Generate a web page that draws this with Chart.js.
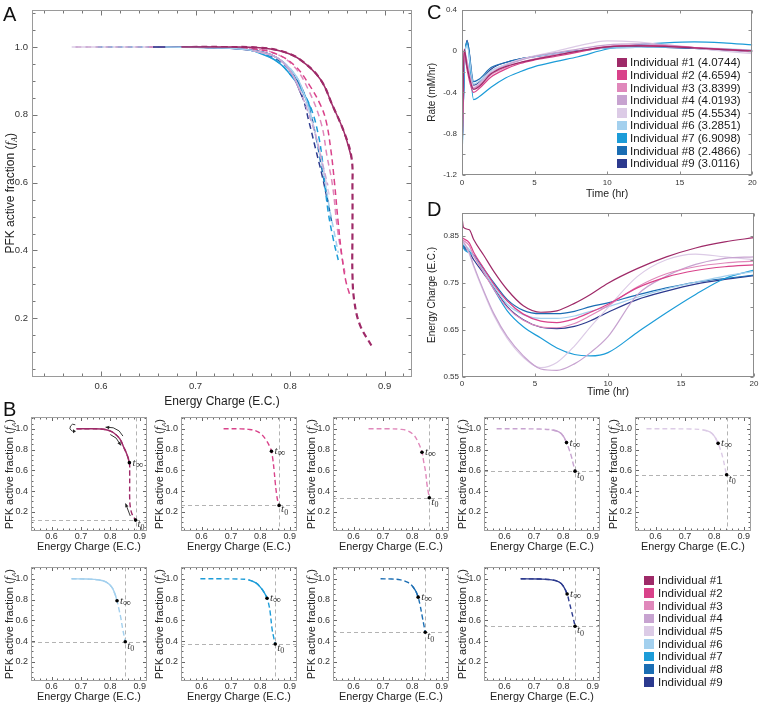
<!DOCTYPE html>
<html><head><meta charset="utf-8">
<script src="https://cdn.jsdelivr.net/npm/chart.js@4.4.1/dist/chart.umd.min.js"></script>
<style>
html,body{margin:0;padding:0;background:#fff;}
#wrap{position:relative;width:760px;height:706px;overflow:hidden;font-family:"Liberation Sans",Arial,sans-serif;}
#wrap canvas{position:absolute;z-index:1;}
.panel{position:absolute;font-size:20px;line-height:20px;color:#111;z-index:2;}
.legend{position:absolute;font-size:11.5px;color:#1a1a1a;z-index:2;}
.legend .row{display:flex;align-items:center;white-space:nowrap;}
.legend .sw{display:inline-block;flex:none;}
</style></head><body><div id="wrap">
<div class="panel" style="left:3px;top:4px">A</div>
<div class="panel" style="left:3px;top:399px">B</div>
<div class="panel" style="left:427px;top:2px">C</div>
<div class="panel" style="left:427px;top:199px">D</div>
<div class="legend" id="legC" style="left:617px;top:56px"></div>
<div class="legend" id="legB" style="left:644px;top:574px"></div>
</div>
<script>
// ---------------- data ----------------
const individuals = ['Individual #1','Individual #2','Individual #3','Individual #4','Individual #5','Individual #6','Individual #7','Individual #8','Individual #9'];
const colors = ['#9e2a68','#d9428a','#e088bb','#c7a3d0','#dccbe6','#a3d0ee','#1c9cd8','#1a6db3','#2c3a8e'];
const rateConstants = ['4.0744','4.6594','3.8399','4.0193','4.5534','3.2851','6.9098','2.4866','3.0116'];

// Panel C: rate vs time
const timeC = [0, 0.15, 0.35, 0.8, 1.2, 2, 3, 4, 5, 6.5, 8, 10, 12, 14, 16, 18, 20];
const rate1 = [-1.05, 0.02, -0.15, -0.37, -0.34, -0.22, -0.15, -0.11, -0.08, -0.04, 0.0, 0.04, 0.05, 0.045, 0.03, 0.015, 0.0];
const rate2 = [-1.07, 0.01, -0.18, -0.40, -0.36, -0.25, -0.175, -0.12, -0.086, -0.05, -0.01, 0.04, 0.055, 0.05, 0.035, 0.02, 0.005];
const rate3 = [-1.04, 0.0, -0.15, -0.36, -0.33, -0.23, -0.16, -0.11, -0.075, -0.035, 0.0, 0.045, 0.055, 0.045, 0.03, 0.015, 0.0];
const rate4 = [-1.0, 0.0, -0.1, -0.36, -0.32, -0.21, -0.14, -0.09, -0.05, -0.015, 0.02, 0.06, 0.07, 0.06, 0.035, 0.015, -0.01];
const rate5 = [-1.0, 0.02, -0.1, -0.35, -0.31, -0.2, -0.13, -0.08, -0.045, 0.0, 0.05, 0.10, 0.09, 0.06, 0.03, 0.0, -0.025];
const rate6 = [-1.02, -0.1, 0.05, -0.32, -0.29, -0.19, -0.13, -0.085, -0.055, -0.025, 0.0, 0.03, 0.035, 0.04, 0.035, 0.025, 0.01];
const rate7 = [-1.1, -0.2, 0.08, -0.47, -0.44, -0.35, -0.26, -0.2, -0.15, -0.1, -0.055, 0.02, 0.06, 0.08, 0.09, 0.08, 0.06];
const rate8 = [-1.05, -0.2, 0.1, -0.295, -0.27, -0.16, -0.11, -0.075, -0.05, -0.02, 0.005, 0.03, 0.035, 0.035, 0.03, 0.015, 0.0];
const rate9 = [-1.0, -0.2, 0.105, -0.33, -0.30, -0.175, -0.11, -0.075, -0.054, -0.025, 0.0, 0.03, 0.04, 0.035, 0.025, 0.01, 0.0];

// Panel D: energy charge vs time
const timeD = [0, 0.1, 0.5, 0.8, 1.5, 2.2, 3.1, 4.2, 5.4, 6.5, 7.7, 8.8, 10, 12, 14, 16, 18, 20];
const ec1 = [0.891,0.869,0.864,0.843,0.809,0.774,0.736,0.702,0.688,0.691,0.707,0.726,0.750,0.781,0.806,0.825,0.838,0.847];
const ec2 = [0.847,0.845,0.836,0.816,0.781,0.747,0.712,0.684,0.669,0.666,0.674,0.688,0.705,0.740,0.763,0.777,0.785,0.789];
const ec3 = [0.843,0.841,0.830,0.809,0.772,0.736,0.698,0.671,0.657,0.655,0.664,0.681,0.702,0.742,0.770,0.785,0.793,0.797];
const ec4 = [0.840,0.838,0.815,0.788,0.733,0.684,0.636,0.595,0.567,0.564,0.578,0.602,0.636,0.725,0.765,0.790,0.803,0.806];
const ec5 = [0.838,0.836,0.812,0.785,0.730,0.680,0.632,0.592,0.570,0.581,0.616,0.657,0.698,0.764,0.800,0.812,0.806,0.800];
const ec6 = [0.835,0.833,0.822,0.808,0.775,0.742,0.705,0.683,0.675,0.675,0.680,0.690,0.700,0.720,0.738,0.752,0.765,0.775];
const ec7 = [0.843,0.825,0.815,0.809,0.774,0.736,0.691,0.657,0.633,0.612,0.598,0.595,0.602,0.645,0.687,0.726,0.760,0.778];
const ec8 = [0.838,0.832,0.818,0.810,0.780,0.750,0.715,0.692,0.685,0.685,0.690,0.700,0.708,0.725,0.740,0.752,0.760,0.767];
const ec9 = [0.835,0.828,0.815,0.800,0.770,0.740,0.700,0.672,0.656,0.653,0.658,0.670,0.688,0.715,0.733,0.748,0.758,0.766];

// Panels A/B: PFK active fraction vs energy charge, [E.C., fA]
const path1 = [[0.685,1.0],[0.73,1.0],[0.768,0.998],[0.793,0.986],[0.811,0.962],[0.832,0.905],[0.845,0.827],[0.857,0.75],[0.865,0.674],[0.866,0.58],[0.866,0.45],[0.866,0.33],[0.868,0.25],[0.874,0.18],[0.886,0.12]];
const path2 = [[0.675,1.0],[0.73,1.0],[0.76,0.995],[0.785,0.98],[0.805,0.945],[0.82,0.89],[0.832,0.83],[0.838,0.783],[0.843,0.70],[0.847,0.60],[0.851,0.48],[0.855,0.38],[0.859,0.31],[0.864,0.262]];
const path3 = [[0.651,1.0],[0.72,1.0],[0.76,0.995],[0.785,0.98],[0.805,0.94],[0.82,0.87],[0.833,0.774],[0.839,0.68],[0.845,0.59],[0.850,0.465],[0.855,0.38],[0.858,0.335]];
const path4 = [[0.573,1.0],[0.65,1.0],[0.72,0.998],[0.76,0.99],[0.785,0.97],[0.80,0.93],[0.811,0.867],[0.82,0.80],[0.828,0.73],[0.834,0.66],[0.840,0.592]];
const path5 = [[0.569,1.0],[0.65,1.0],[0.72,0.998],[0.76,0.99],[0.785,0.97],[0.80,0.93],[0.813,0.86],[0.822,0.79],[0.83,0.71],[0.836,0.63],[0.842,0.557]];
const path6 = [[0.668,1.0],[0.72,0.998],[0.76,0.99],[0.785,0.97],[0.805,0.92],[0.815,0.86],[0.823,0.788],[0.83,0.70],[0.836,0.62],[0.842,0.52],[0.847,0.45],[0.851,0.393]];
const path7 = [[0.596,1.0],[0.66,1.0],[0.72,0.998],[0.76,0.99],[0.785,0.96],[0.80,0.92],[0.813,0.87],[0.823,0.813],[0.83,0.74],[0.834,0.67],[0.840,0.52],[0.846,0.43],[0.851,0.372]];
const path8 = [[0.692,1.0],[0.73,0.998],[0.76,0.99],[0.785,0.965],[0.80,0.93],[0.812,0.88],[0.820,0.823],[0.827,0.74],[0.833,0.65],[0.839,0.56],[0.844,0.485]];
const path9 = [[0.655,1.0],[0.72,0.998],[0.76,0.99],[0.785,0.97],[0.80,0.93],[0.813,0.853],[0.82,0.78],[0.827,0.70],[0.834,0.62],[0.840,0.543]];
const solid1 = [[0.685,1.0],[0.73,1.0],[0.768,0.998],[0.793,0.986],[0.811,0.962],[0.832,0.905],[0.845,0.827],[0.857,0.75],[0.865,0.674]];
const solid2 = [];
const solid3 = [];
const solid4 = [[0.76,0.99],[0.785,0.97],[0.80,0.93],[0.811,0.867]];
const solid5 = [[0.76,0.99],[0.785,0.97],[0.80,0.93],[0.813,0.86]];
const solid6 = [[0.668,1.0],[0.72,0.998],[0.76,0.99],[0.785,0.97],[0.805,0.92],[0.815,0.86],[0.823,0.788]];
const solid7 = [[0.76,0.99],[0.785,0.96],[0.80,0.92],[0.813,0.87],[0.823,0.813]];
const solid8 = [[0.80,0.93],[0.812,0.88],[0.820,0.823]];
const solid9 = [[0.655,1.0],[0.72,0.998],[0.76,0.99],[0.785,0.97],[0.80,0.93],[0.813,0.853]];
const tZero = [[0.886,0.12],[0.864,0.262],[0.858,0.335],[0.840,0.592],[0.842,0.557],[0.851,0.393],[0.851,0.372],[0.844,0.485],[0.840,0.543]];
const tInf  = [[0.865,0.674],[0.838,0.783],[0.833,0.774],[0.811,0.867],[0.813,0.86],[0.823,0.788],[0.823,0.813],[0.820,0.823],[0.813,0.853]];
// direction arrows annotating individual #1 (head at last point)
const b1Arrows = [
  [[0.843,0.93],[0.83,0.98],[0.81,1.01],[0.784,1.016]],
  [[0.80,0.945],[0.82,0.91],[0.836,0.84]],
  [[0.868,0.16],[0.852,0.28]]
];

const rates = [rate1,rate2,rate3,rate4,rate5,rate6,rate7,rate8,rate9];
const ecs = [ec1,ec2,ec3,ec4,ec5,ec6,ec7,ec8,ec9];
const paths = [path1,path2,path3,path4,path5,path6,path7,path8,path9];
const solids = [solid1,solid2,solid3,solid4,solid5,solid6,solid7,solid8,solid9];

// ---------------- helpers ----------------
const FONT = '"Liberation Sans", Arial, sans-serif';
const SERIF = '"Liberation Serif", "DejaVu Serif", serif';
Chart.defaults.font.family = FONT;
Chart.defaults.color = '#333';
Chart.defaults.animation = false;

function makeCanvas(left, top, w, h) {
  const c = document.createElement('canvas');
  c.width = w; c.height = h;
  c.style.left = left + 'px'; c.style.top = top + 'px';
  c.style.width = w + 'px'; c.style.height = h + 'px';
  document.getElementById('wrap').appendChild(c);
  return c;
}
const isMul = (v, s) => Math.abs(v / s - Math.round(v / s)) < 1e-6;
const xy = a => a.map(p => ({x: p[0], y: p[1]}));
const series = (ts, vs) => ts.map((t, k) => ({x: t, y: vs[k]}));

function drawRich(ctx, parts, x, y, rot, align) {
  ctx.save(); ctx.translate(x, y); ctx.rotate(rot || 0);
  ctx.textBaseline = 'alphabetic'; ctx.textAlign = 'left';
  let w = 0;
  parts.forEach(p => { ctx.font = p.font; p.w = ctx.measureText(p.text).width; w += p.w; });
  let cx = align === 'left' ? 0 : -w / 2;
  parts.forEach(p => { ctx.font = p.font; ctx.fillStyle = p.color || '#222'; ctx.fillText(p.text, cx, p.dy || 0); cx += p.w; });
  ctx.restore();
}

function framePlugin(o) {
  return {
    id: 'frame',
    afterDatasetsDraw(chart) {
      const {ctx, chartArea: a} = chart;
      const xs = chart.scales.x, ys = chart.scales.y;
      const L = Math.round(a.left) + 0.5, R = Math.round(a.right) - 0.5, T = Math.round(a.top) + 0.5, B = Math.round(a.bottom) - 0.5;
      ctx.save();
      ctx.lineWidth = 1; ctx.strokeStyle = o.tickColor; ctx.beginPath();
      xs.ticks.forEach(t => {
        const p = Math.round(xs.getPixelForValue(t.value)) + 0.5;
        const len = isMul(t.value - o.xBase, o.xMajor) ? o.major : o.minor;
        ctx.moveTo(p, B); ctx.lineTo(p, B - len);
        ctx.moveTo(p, T); ctx.lineTo(p, T + len);
      });
      ys.ticks.forEach(t => {
        const p = Math.round(ys.getPixelForValue(t.value)) + 0.5;
        const len = isMul(t.value - o.yBase, o.yMajor) ? o.major : o.minor;
        ctx.moveTo(L, p); ctx.lineTo(L + len, p);
        ctx.moveTo(R, p); ctx.lineTo(R - len, p);
      });
      ctx.stroke();
      ctx.strokeStyle = o.frameColor; ctx.lineWidth = 1;
      ctx.strokeRect(L, T, R - L, B - T);
      ctx.restore();
    }
  };
}

// rotated y-axis title with italic f and subscript A; x = baseline position
function yTitlePlugin(x, size) {
  return {
    id: 'ytitle',
    afterDraw(chart) {
      const a = chart.chartArea;
      drawRich(chart.ctx, [
        {text: 'PFK active fraction (', font: size + 'px ' + FONT},
        {text: 'f', font: 'italic ' + (size + 1) + 'px ' + SERIF},
        {text: 'A', font: 'italic ' + Math.round(size * 0.65) + 'px ' + SERIF, dy: 3},
        {text: ')', font: size + 'px ' + FONT}
      ], x, (a.top + a.bottom) / 2, -Math.PI / 2, 'center');
    }
  };
}

function axis(min, max, step, cb, fontSize, pad, fit, title) {
  const o = {
    type: 'linear', min, max,
    grid: {display: false, drawTicks: false},
    border: {display: false},
    ticks: {stepSize: step, includeBounds: false, autoSkip: false, maxRotation: 0, minRotation: 0, maxTicksLimit: 1000,
            callback: cb, font: {size: fontSize}, color: '#333', padding: pad},
    afterFit: fit
  };
  if (title) o.title = title;
  return o;
}
const lab01 = v => isMul(v, 0.1) ? v.toFixed(1) : '';
const lab02 = v => isMul(v, 0.2) ? v.toFixed(1) : '';
const baseOpts = {responsive: false, animation: false, events: [], plugins: {legend: {display: false}, tooltip: {enabled: false}}};

// ---------------- Panel A ----------------
new Chart(makeCanvas(0, 0, 420, 410), {
  type: 'scatter',
  data: {datasets: [
    ...paths.map((p, i) => ({data: xy(p), borderColor: colors[i], borderDash: [6, 4], borderWidth: i === 0 ? 2.2 : 1.5, showLine: true, pointRadius: 0, tension: 0.4, order: 2})),
    ...solids.map((p, i) => ({data: xy(p), borderColor: colors[i], borderWidth: 1.5, showLine: true, pointRadius: 0, tension: 0.4, order: 1}))
  ]},
  options: Object.assign({}, baseOpts, {
    layout: {padding: {top: 2, right: 8, left: 0, bottom: 0}},
    scales: {
      x: axis(0.527, 0.929, 0.02, lab01, 9.5, 3.3, s => { s.height = 33; },
        {display: true, text: 'Energy Charge (E.C.)', font: {size: 12}, color: '#222', padding: {top: 0, bottom: 1}}),
      y: axis(0.027, 1.11, 0.05, lab02, 9.5, 4, s => { s.width = 32; })
    }
  }),
  plugins: [framePlugin({frameColor: '#9a9a9a', tickColor: '#777', xBase: 0, xMajor: 0.1, yBase: 0, yMajor: 0.2, major: 5, minor: 3}), yTitlePlugin(13.5, 12)]
});

// ---------------- Panel B ----------------
const colLefts = [31, 181, 333, 484, 635];
const rowTops = [413, 563];

function bExtra(i) {
  return {
    id: 'bextra',
    beforeDatasetsDraw(chart) {
      const {ctx, chartArea: a} = chart; const xs = chart.scales.x, ys = chart.scales.y;
      const px = Math.round(xs.getPixelForValue(tZero[i][0])) + 0.5, py = Math.round(ys.getPixelForValue(tZero[i][1])) + 0.5;
      ctx.save(); ctx.strokeStyle = '#b3b3b3'; ctx.lineWidth = 1; ctx.setLineDash([4, 3]);
      ctx.beginPath(); ctx.moveTo(px, a.top); ctx.lineTo(px, a.bottom);
      ctx.moveTo(a.left, py); ctx.lineTo(a.right, py); ctx.stroke(); ctx.restore();
    },
    afterDatasetsDraw(chart) {
      const ctx = chart.ctx; const meta = chart.getDatasetMeta(2);
      const p0 = meta.data[0], pI = meta.data[1];
      drawRich(ctx, [{text: 't', font: 'italic 11px ' + SERIF, color: '#333'}, {text: '0', font: '8px ' + SERIF, dy: 2.5, color: '#333'}], p0.x + 2, p0.y + 7, 0, 'left');
      drawRich(ctx, [{text: 't', font: 'italic 11px ' + SERIF, color: '#333'}, {text: '∞', font: '11px ' + SERIF, dy: 2, color: '#333'}], pI.x + 3, pI.y + 3, 0, 'left');
      if (i === 0) {
        const xs = chart.scales.x, ys = chart.scales.y;
        ctx.save(); ctx.strokeStyle = '#222'; ctx.fillStyle = '#222'; ctx.lineWidth = 0.9;
        b1Arrows.forEach(arr => {
          const pts = arr.map(p => [xs.getPixelForValue(p[0]), ys.getPixelForValue(p[1])]);
          ctx.beginPath(); ctx.moveTo(pts[0][0], pts[0][1]);
          for (let k = 1; k < pts.length; k++) ctx.lineTo(pts[k][0], pts[k][1]);
          ctx.stroke();
          const e = pts[pts.length - 1], s = pts[pts.length - 2];
          const ang = Math.atan2(e[1] - s[1], e[0] - s[0]);
          ctx.beginPath(); ctx.moveTo(e[0], e[1]);
          ctx.lineTo(e[0] - 4 * Math.cos(ang - 0.45), e[1] - 4 * Math.sin(ang - 0.45));
          ctx.lineTo(e[0] - 4 * Math.cos(ang + 0.45), e[1] - 4 * Math.sin(ang + 0.45));
          ctx.closePath(); ctx.fill();
        });
        // loop at the turning point
        const cx = xs.getPixelForValue(path1[0][0]) - 3, cy = ys.getPixelForValue(path1[0][1]) - 1;
        ctx.beginPath(); ctx.arc(cx, cy, 3.5, -Math.PI / 3, Math.PI / 2, true); ctx.stroke();
        ctx.beginPath(); ctx.moveTo(cx + 2.5, cy + 3.5); ctx.lineTo(cx - 0.5, cy + 1.5); ctx.lineTo(cx - 0.5, cy + 5.5); ctx.closePath(); ctx.fill();
        ctx.restore();
      }
    }
  };
}

for (let i = 0; i < 9; i++) {
  const col = i % 5, row = Math.floor(i / 5);
  const L = colLefts[col], T = rowTops[row];
  new Chart(makeCanvas(L - 31, T - 4, 151, 147), {
    type: 'scatter',
    data: {datasets: [
      {data: xy(paths[i]), borderColor: colors[i], borderDash: [5, 3], borderWidth: 1.4, showLine: true, pointRadius: 0, tension: 0.4, order: 2},
      {data: xy(solids[i]), borderColor: colors[i], borderWidth: 1.4, showLine: true, pointRadius: 0, tension: 0.4, order: 1},
      {data: xy([tZero[i], tInf[i]]), showLine: false, pointRadius: 1.8, pointBackgroundColor: '#000', pointBorderWidth: 0, order: 0}
    ]},
    options: Object.assign({}, baseOpts, {
      layout: {padding: {top: 4, right: 2, left: 0, bottom: 0}},
      scales: {
        x: axis(0.53, 0.925, 0.02, lab01, 9, 0, s => { s.height = 25; },
          {display: true, text: 'Energy Charge (E.C.)', font: {size: 10.8}, color: '#222', padding: {top: 0, bottom: 2}}),
        y: axis(0.015, 1.11, 0.05, lab02, 9, 3, s => { s.width = 31; })
      }
    }),
    plugins: [framePlugin({frameColor: '#a0a0a0', tickColor: '#666', xBase: 0, xMajor: 0.1, yBase: 0, yMajor: 0.2, major: 3.5, minor: 2}), bExtra(i), yTitlePlugin(12.5, 11)]
  });
}

// ---------------- Panel C ----------------
new Chart(makeCanvas(415, 0, 345, 205), {
  type: 'scatter',
  data: {datasets: rates.map((r, i) => ({label: individuals[i], data: series(timeC, r), borderColor: colors[i], borderWidth: 1.2, showLine: true, pointRadius: 0, cubicInterpolationMode: 'monotone'}))},
  options: Object.assign({}, baseOpts, {
    layout: {padding: {top: 8, right: 6, left: 0, bottom: 0}},
    scales: {
      x: axis(0, 20, 5, v => String(v), 8, 3.2, s => { s.height = 30; },
        {display: true, text: 'Time (hr)', font: {size: 10.5}, color: '#222', padding: {top: 0, bottom: 4.2}}),
      y: axis(-1.2, 0.4, 0.2, v => isMul(v, 0.4) ? (Math.abs(v) < 1e-9 ? '0' : v.toFixed(1)) : '', 8, 5, s => { s.width = 47; },
        {display: true, text: 'Rate (mM/hr)', font: {size: 10}, color: '#222', padding: {top: 11, bottom: 0}})
    }
  }),
  plugins: [framePlugin({frameColor: '#8c8c8c', tickColor: '#8c8c8c', xBase: 0, xMajor: 5, yBase: 0, yMajor: 0.2, major: 3, minor: 3})]
});

// ---------------- Panel D ----------------
new Chart(makeCanvas(415, 205, 345, 195), {
  type: 'scatter',
  data: {datasets: ecs.map((e, i) => ({label: individuals[i], data: series(timeD, e), borderColor: colors[i], borderWidth: 1.2, showLine: true, pointRadius: 0, cubicInterpolationMode: 'monotone'}))},
  options: Object.assign({}, baseOpts, {
    layout: {padding: {top: 6, right: 6, left: 0, bottom: 0}},
    scales: {
      x: axis(0, 20, 5, v => String(v), 8, 1.5, s => { s.height = 23; },
        {display: true, text: 'Time (hr)', font: {size: 10.5}, color: '#222', padding: {top: 0, bottom: 1.2}}),
      y: axis(0.55, 0.9, 0.05, v => isMul(v - 0.55, 0.1) ? v.toFixed(2) : '', 8, 3, s => { s.width = 47; },
        {display: true, text: 'Energy Charge (E.C.)', font: {size: 10}, color: '#222', padding: {top: 11, bottom: 0}})
    }
  }),
  plugins: [framePlugin({frameColor: '#8c8c8c', tickColor: '#8c8c8c', xBase: 0, xMajor: 5, yBase: 0, yMajor: 0.05, major: 3, minor: 3})]
});

// ---------------- Legends ----------------
function buildLegend(id, withValues, sw, gap, rowH) {
  const el = document.getElementById(id);
  individuals.forEach((name, i) => {
    const row = document.createElement('div'); row.className = 'row'; row.style.height = rowH + 'px';
    const s = document.createElement('span'); s.className = 'sw';
    s.style.cssText = 'width:' + sw + 'px;height:' + sw + 'px;background:' + colors[i] + ';margin-right:' + gap + 'px';
    row.appendChild(s);
    const t = document.createElement('span');
    t.textContent = withValues ? name + ' (' + rateConstants[i] + ')' : name;
    row.appendChild(t); el.appendChild(row);
  });
}
buildLegend('legC', true, 9.5, 3.5, 12.63);
buildLegend('legB', false, 9.5, 4.5, 12.7);
</script>
</body></html>
